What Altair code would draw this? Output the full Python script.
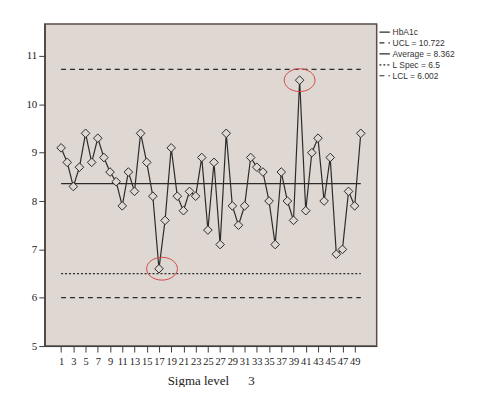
import altair as alt
import pandas as pd

# ---- data ----
index = list(range(1, 51))
hba1c = [9.1, 8.8, 8.3, 8.7, 9.4, 8.8, 9.3, 8.9, 8.6, 8.4,
         7.9, 8.6, 8.2, 9.4, 8.8, 8.1, 6.6, 7.6, 9.1, 8.1,
         7.8, 8.2, 8.1, 8.9, 7.4, 8.8, 7.1, 9.4, 7.9, 7.5,
         7.9, 8.9, 8.7, 8.6, 8.0, 7.1, 8.6, 8.0, 7.6, 10.5,
         7.8, 9.0, 9.3, 8.0, 8.9, 6.9, 7.0, 8.2, 7.9, 9.4]
series_names = ["HbA1c", "UCL = 10.722", "Average = 8.362", "L Spec = 6.5", "LCL = 6.002"]
limit_names = ["UCL = 10.722", "Average = 8.362", "L Spec = 6.5", "LCL = 6.002"]
limit_values = [10.722, 8.362, 6.5, 6.002]
x_ticks = list(range(1, 50, 2))
y_ticks = [5, 6, 7, 8, 9, 10, 11]
highlight_x = [17.5, 40]
highlight_y = [6.6, 10.5]

# ---- tables ----
rows = [{"i": i, "v": v, "series": "HbA1c"} for i, v in zip(index, hba1c)]
for name, val in zip(limit_names, limit_values):
    rows.append({"i": index[0], "v": val, "series": name})
    rows.append({"i": index[-1], "v": val, "series": name})
df = pd.DataFrame(rows)
pts = pd.DataFrame({"i": index, "v": hba1c})
hl = pd.DataFrame({"i": highlight_x, "v": highlight_y})

BG = "#ded7d2"
INK = "#2b2b2b"

xscale = alt.Scale(domain=[-1.67, 52.6], nice=False, zero=False)
yscale = alt.Scale(domain=[5, 11.66], nice=False, zero=False)

xaxis = alt.Axis(values=x_ticks, tickCount=len(x_ticks),
                 title="Sigma level\u00a0\u00a0\u00a0\u00a0\u00a0\u00a03",
                 labelOverlap=False, labelFlush=False, grid=False)
yaxis = alt.Axis(values=y_ticks, tickCount=len(y_ticks), title=None, grid=False)

lines = alt.Chart(df).mark_line(strokeWidth=1.2).encode(
    x=alt.X("i:Q", scale=xscale, axis=xaxis),
    y=alt.Y("v:Q", scale=yscale, axis=yaxis),
    color=alt.Color("series:N", scale=alt.Scale(domain=series_names, range=[INK] * 5),
                    legend=alt.Legend(title=None)),
    strokeDash=alt.StrokeDash("series:N",
                              scale=alt.Scale(domain=series_names,
                                              range=[[1, 0], [5, 4], [1, 0], [2, 2], [5, 4]]),
                              legend=alt.Legend(title=None)),
    detail="series:N",
)

diamonds = alt.Chart(pts).mark_point(shape="diamond", filled=True, fill=BG, stroke=INK,
                                     strokeWidth=1, size=75, opacity=1).encode(
    x=alt.X("i:Q", scale=xscale, axis=xaxis),
    y=alt.Y("v:Q", scale=yscale, axis=yaxis),
)

ellipse = "M-1,0 A1,0.74 0 1,0 1,0 A1,0.74 0 1,0 -1,0 Z"
circles = alt.Chart(hl).mark_point(shape=ellipse, filled=False, stroke="#d24a4a",
                                   strokeWidth=1, size=960, opacity=1).encode(
    x=alt.X("i:Q", scale=xscale, axis=xaxis),
    y=alt.Y("v:Q", scale=yscale, axis=yaxis),
)

chart = alt.layer(lines, diamonds, circles).properties(
    width=334, height=324,
    autosize=alt.AutoSizeParams(type="none"),
    padding={"left": 37, "top": 15, "right": 110, "bottom": 40},
).configure_view(
    fill=BG, stroke="#5a4c46", strokeWidth=1.5,
).configure_axis(
    domainColor="#3a3a3a", tickColor="#3a3a3a", labelColor="#222",
    labelFont="Liberation Serif", titleFont="Liberation Serif",
    titleFontWeight="normal", titleColor="#222",
).configure_axisX(
    labelFontSize=10.5, tickSize=6, labelPadding=5, titleFontSize=13, titlePadding=7,
).configure_axisY(
    labelFontSize=11, tickSize=6, labelPadding=2,
).configure_legend(
    orient="none", legendX=336, legendY=2,
    labelFont="Liberation Sans", labelFontSize=8.5, labelColor="#333",
    symbolType="stroke", symbolSize=110, symbolStrokeWidth=1.2, rowPadding=0,
    labelOffset=2,
)

chart.save("out.html", embed_options={"renderer": "svg", "actions": False})
